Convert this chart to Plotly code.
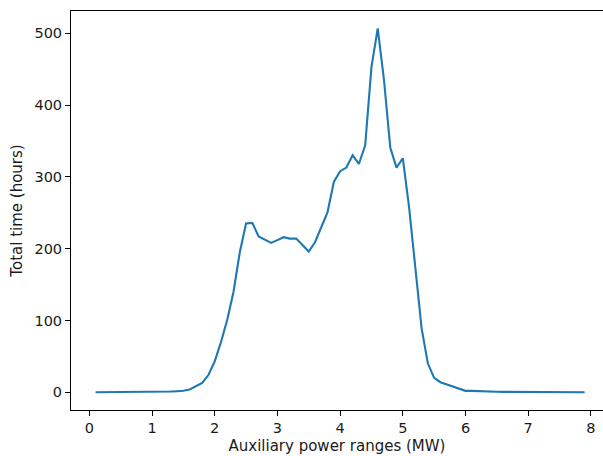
import plotly.graph_objects as go

power_mw = [round(0.1 * i, 1) for i in range(1, 80)]
hours = [
    0, 0, 0, 0, 0, 0, 0, 0, 0, 0.2,          # 0.1 - 1.0
    0.5, 0.8, 1, 1.5, 2, 4, 8, 13, 24, 43,   # 1.1 - 2.0
    70, 101, 140, 195, 235, 236, 217, 213, 208, 212,  # 2.1 - 3.0
    216, 214, 214, 205, 196, 209, 230, 251, 293, 308,  # 3.1 - 4.0
    313, 330, 318, 344, 453, 507, 435, 341, 313, 326,  # 4.1 - 5.0
    258, 173, 89, 40, 20, 14, 11, 8, 5, 2,   # 5.1 - 6.0
    2, 1.5, 1, 1, 0.8, 0.6, 0.5, 0.4, 0.3, 0.3,  # 6.1 - 7.0
    0.2, 0.2, 0.2, 0.2, 0.1, 0.1, 0.1, 0.1, 0.1,  # 7.1 - 7.9
]
x_ticks = [0, 1, 2, 3, 4, 5, 6, 7, 8]
y_ticks = [0, 100, 200, 300, 400, 500]

fig = go.Figure(
    go.Scatter(x=power_mw, y=hours, mode="lines",
               line=dict(color="#1f77b4", width=2.1))
)

font = dict(family="DejaVu Sans", size=14.5, color="#1a1a1a")
title_font = dict(family="DejaVu Sans", size=15, color="#1a1a1a")
fig.update_layout(
    width=603, height=456,
    margin=dict(l=71, r=0, t=11, b=46, autoexpand=False),
    paper_bgcolor="white", plot_bgcolor="white",
    showlegend=False,
    font=font,
)
fig.update_xaxes(
    range=[-0.292, 8.193], tickvals=x_ticks, ticks="outside", ticklen=5,
    tickwidth=1, tickcolor="black", showgrid=False, zeroline=False,
    showline=True, linecolor="black", linewidth=1, mirror=True,
    title=dict(text="Auxiliary power ranges (MW)", standoff=5, font=title_font),
    tickfont=font, automargin=False,
)
fig.update_yaxes(
    range=[-24.7, 531.1], tickvals=y_ticks, ticks="outside", ticklen=5,
    tickwidth=1, tickcolor="black", showgrid=False, zeroline=False,
    showline=True, linecolor="black", linewidth=1, mirror=False,
    title=dict(text="Total time (hours)", standoff=8, font=title_font),
    tickfont=font, automargin=False,
)

fig.write_html(
    "out.html",
    config={"displayModeBar": False, "staticPlot": True},
    post_script="document.body.style.margin='0';document.body.style.overflow='hidden';",
)
